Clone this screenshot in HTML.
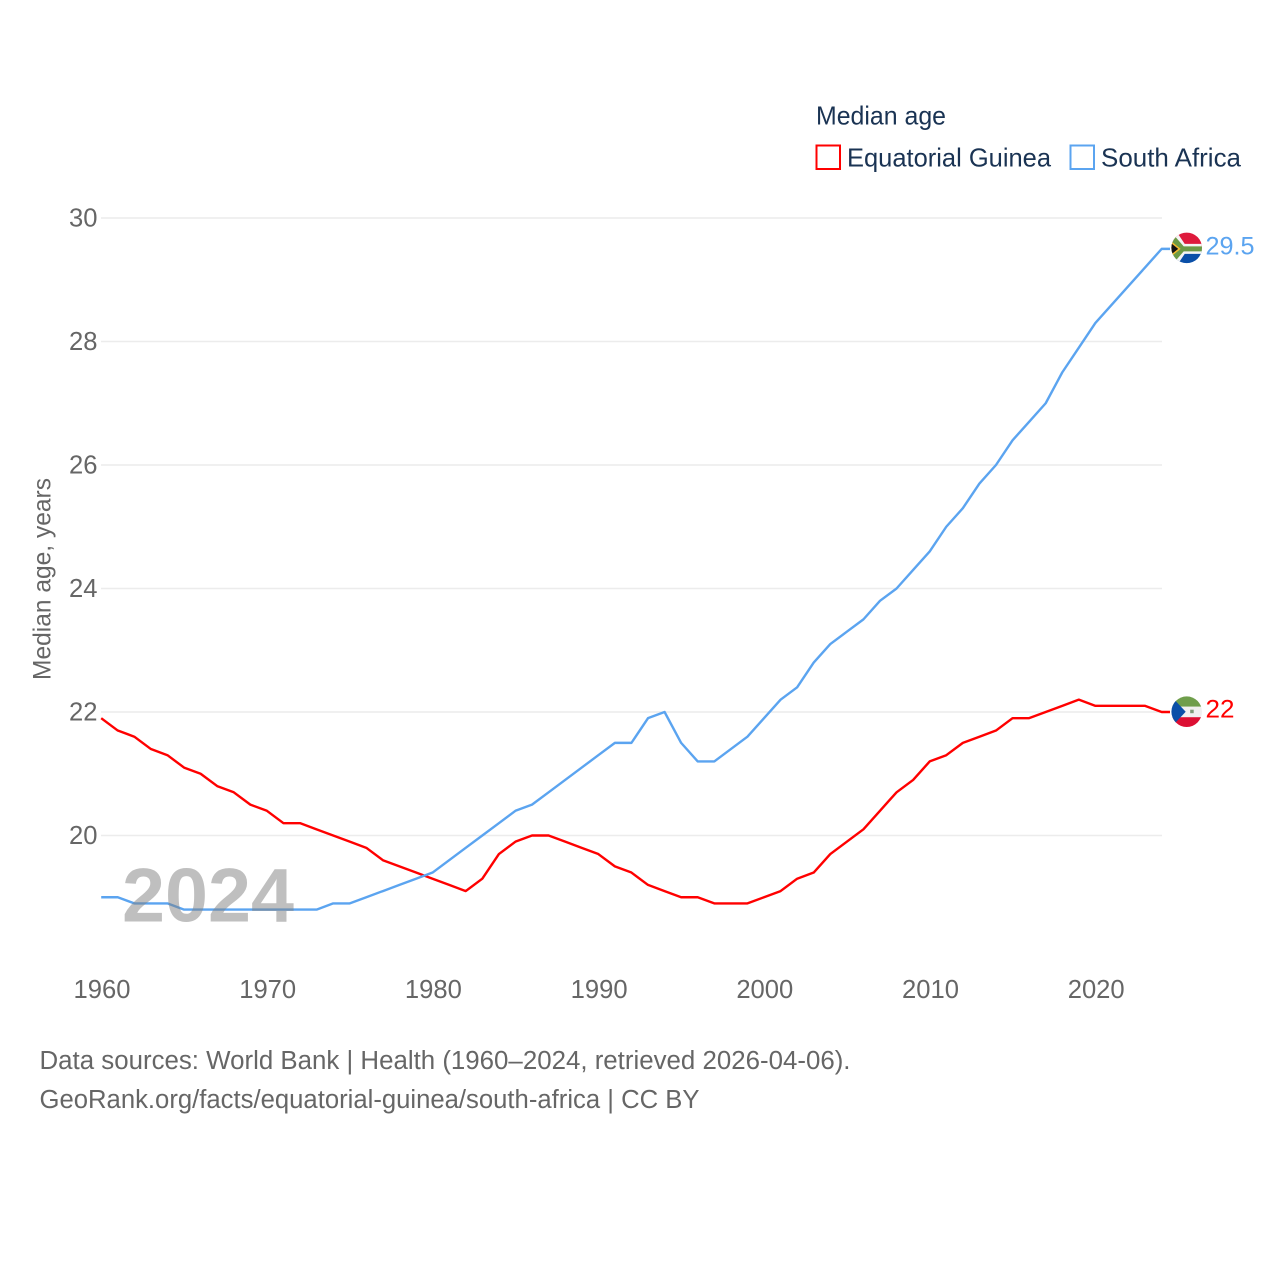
<!DOCTYPE html>
<html lang="en">
<head>
<meta charset="utf-8">
<title>Median age: Equatorial Guinea and South Africa</title>
<style>
html,body{margin:0;padding:0;background:#fff;width:1280px;height:1280px;overflow:hidden}
svg{display:block}
text{font-family:"Liberation Sans",sans-serif}
</style>
</head>
<body>
<svg id="chart" width="1280" height="1280" viewBox="0 0 1280 1280" xmlns="http://www.w3.org/2000/svg">
  <defs>
    <clipPath id="flag-clip"><circle cx="0" cy="0" r="15.3"></circle></clipPath>
  </defs>
  <rect width="1280" height="1280" fill="#fff"></rect>
  <g id="grid"></g>
  <g id="y-ticks"></g>
  <g id="x-ticks"></g>
  <text transform="translate(50.5,680) rotate(-90)" font-size="25" fill="#666" textLength="202" lengthAdjust="spacingAndGlyphs">Median age, years</text>

  <g id="series"></g>
  <text id="year-label" x="122" y="921.5" font-size="76" font-weight="700" fill="#808080" fill-opacity="0.5" textLength="172" lengthAdjust="spacingAndGlyphs"></text>

  <g id="flag-za">
    <g clip-path="url(#flag-clip)">
      <rect x="-16" y="-16" width="32" height="17" fill="#de1a3c"></rect>
      <rect x="-16" y="1" width="32" height="15" fill="#0a4fa8"></rect>
      <path d="M-16,-16 H-10 L-2,-4 H16 V6 H-2 L-10,18 H-16 Z" fill="#f4f4f4"></path>
      <path d="M-16,-13 H-13 L-3,-1.5 H16 V3.5 H-3 L-13,15 H-16 Z" fill="#6c9a45"></path>
      <path d="M-16,-7 L-6,1 L-16,9 Z" fill="#f4b92e"></path>
      <path d="M-16,-5 L-8.5,1 L-16,7 Z" fill="#111"></path>
    </g>
  </g>
  <g id="flag-gq">
    <g clip-path="url(#flag-clip)">
      <rect x="-16" y="-16" width="32" height="11" fill="#6f9e4b"></rect>
      <rect x="-16" y="-5" width="32" height="10.5" fill="#f0f0f0"></rect>
      <rect x="-16" y="5.5" width="32" height="11" fill="#dc0f33"></rect>
      <path d="M-16,-16 L-1,0 L-16,16 Z" fill="#0a4fa8"></path>
      <rect x="3.5" y="-2" width="3.5" height="3.5" fill="#7d9a78"></rect>
    </g>
  </g>
  <text id="label-za" x="1205.5" font-size="25" fill="#5ba4f0" textLength="49" lengthAdjust="spacingAndGlyphs"></text>
  <text id="label-gq" x="1205.5" font-size="25" fill="#f00" textLength="29" lengthAdjust="spacingAndGlyphs"></text>

  <g>
    <text x="816" y="124.5" font-size="26" fill="#1a3353" textLength="130" lengthAdjust="spacingAndGlyphs">Median age</text>
    <g>
      <rect x="816.5" y="145.5" width="23.5" height="23.5" fill="#fff" stroke="#f00" stroke-width="2"></rect>
      <text x="847" y="166.5" font-size="26" fill="#1a3353" textLength="204" lengthAdjust="spacingAndGlyphs">Equatorial Guinea</text>
    </g>
    <g>
      <rect x="1070.5" y="145.5" width="23.5" height="23.5" fill="#fff" stroke="#5ba4f0" stroke-width="2"></rect>
      <text x="1101" y="166.5" font-size="26" fill="#1a3353" textLength="140" lengthAdjust="spacingAndGlyphs">South Africa</text>
    </g>
  </g>

  <g>
    <text x="39.5" y="1069" font-size="25.5" fill="#666" textLength="811" lengthAdjust="spacingAndGlyphs">Data sources: World Bank | Health (1960–2024, retrieved 2026-04-06).</text>
    <text x="39.5" y="1108" font-size="25.5" fill="#666" textLength="660" lengthAdjust="spacingAndGlyphs">GeoRank.org/facts/equatorial-guinea/south-africa | CC BY</text>
  </g>
</svg>
<script>
const years = [1960,1961,1962,1963,1964,1965,1966,1967,1968,1969,1970,1971,1972,1973,1974,1975,1976,1977,1978,1979,1980,1981,1982,1983,1984,1985,1986,1987,1988,1989,1990,1991,1992,1993,1994,1995,1996,1997,1998,1999,2000,2001,2002,2003,2004,2005,2006,2007,2008,2009,2010,2011,2012,2013,2014,2015,2016,2017,2018,2019,2020,2021,2022,2023,2024];
const equatorialGuinea = [21.9,21.7,21.6,21.4,21.3,21.1,21,20.8,20.7,20.5,20.4,20.2,20.2,20.1,20,19.9,19.8,19.6,19.5,19.4,19.3,19.2,19.1,19.3,19.7,19.9,20,20,19.9,19.8,19.7,19.5,19.4,19.2,19.1,19,19,18.9,18.9,18.9,19,19.1,19.3,19.4,19.7,19.9,20.1,20.4,20.7,20.9,21.2,21.3,21.5,21.6,21.7,21.9,21.9,22,22.1,22.2,22.1,22.1,22.1,22.1,22];
const southAfrica = [19,19,18.9,18.9,18.9,18.8,18.8,18.8,18.8,18.8,18.8,18.8,18.8,18.8,18.9,18.9,19,19.1,19.2,19.3,19.4,19.6,19.8,20,20.2,20.4,20.5,20.7,20.9,21.1,21.3,21.5,21.5,21.9,22,21.5,21.2,21.2,21.4,21.6,21.9,22.2,22.4,22.8,23.1,23.3,23.5,23.8,24,24.3,24.6,25,25.3,25.7,26,26.4,26.7,27,27.5,27.9,28.3,28.6,28.9,29.2,29.5];
const yTickValues = [20,22,24,26,28,30];
const xTickValues = [1960,1970,1980,1990,2000,2010,2020];

const NS = 'http://www.w3.org/2000/svg';
const xScale = function (year) { return 101.2 + (year - 1960) * 16.57; };
const yScale = function (value) { return 835.5 - (value - 20) * 61.75; };
const LEAD_END = 1170;
const FLAG_X = 1186.7;
const lastYear = years[years.length - 1];

const grid = document.getElementById('grid');
const yTicks = document.getElementById('y-ticks');
yTickValues.forEach(function (value) {
  const line = document.createElementNS(NS, 'line');
  
  
  line.setAttribute('x1', 101);
  line.setAttribute('x2', 1162);
  line.setAttribute('y1', yScale(value));
  line.setAttribute('y2', yScale(value));
  line.setAttribute('stroke', '#ececec');
  line.setAttribute('stroke-width', 1.5);
  grid.appendChild(line);

  const label = document.createElementNS(NS, 'text');
  
  
  label.setAttribute('x', 97.5);
  label.setAttribute('y', yScale(value) + 8.3);
  label.setAttribute('text-anchor', 'end');
  label.setAttribute('font-size', 25.6);
  label.setAttribute('fill', '#666');
  label.textContent = String(value);
  yTicks.appendChild(label);
});

const xTicks = document.getElementById('x-ticks');
xTickValues.forEach(function (year) {
  const label = document.createElementNS(NS, 'text');
  
  
  label.setAttribute('x', xScale(year) + 0.8);
  label.setAttribute('y', 998);
  label.setAttribute('text-anchor', 'middle');
  label.setAttribute('font-size', 25.6);
  label.setAttribute('fill', '#666');
  label.textContent = String(year);
  xTicks.appendChild(label);
});

const seriesGroup = document.getElementById('series');
function drawSeries(values, color, name) {
  const points = values.map(function (value, i) {
    return xScale(years[i]).toFixed(2) + ',' + yScale(value).toFixed(2);
  });
  points.push(LEAD_END + ',' + yScale(values[values.length - 1]).toFixed(2));
  const line = document.createElementNS(NS, 'polyline');
  
  
  line.setAttribute('points', points.join(' '));
  line.setAttribute('fill', 'none');
  line.setAttribute('stroke', color);
  line.setAttribute('stroke-width', 2.4);
  line.setAttribute('stroke-linejoin', 'round');
  seriesGroup.appendChild(line);
}
drawSeries(equatorialGuinea, '#ff0000', 'equatorial-guinea-line');
drawSeries(southAfrica, '#5ba4f0', 'south-africa-line');

const lastZa = southAfrica[southAfrica.length - 1];
const lastGq = equatorialGuinea[equatorialGuinea.length - 1];
document.getElementById('flag-za').setAttribute('transform', 'translate(' + FLAG_X + ',' + (yScale(lastZa) - 1) + ')');
document.getElementById('flag-gq').setAttribute('transform', 'translate(' + FLAG_X + ',' + (yScale(lastGq) - 0.3) + ')');
const labelZa = document.getElementById('label-za');
labelZa.setAttribute('y', yScale(lastZa) + 5.5);
labelZa.textContent = String(lastZa);
const labelGq = document.getElementById('label-gq');
labelGq.setAttribute('y', yScale(lastGq) + 5.5);
labelGq.textContent = String(lastGq);
document.getElementById('year-label').textContent = String(lastYear);
</script>
</body>
</html>
